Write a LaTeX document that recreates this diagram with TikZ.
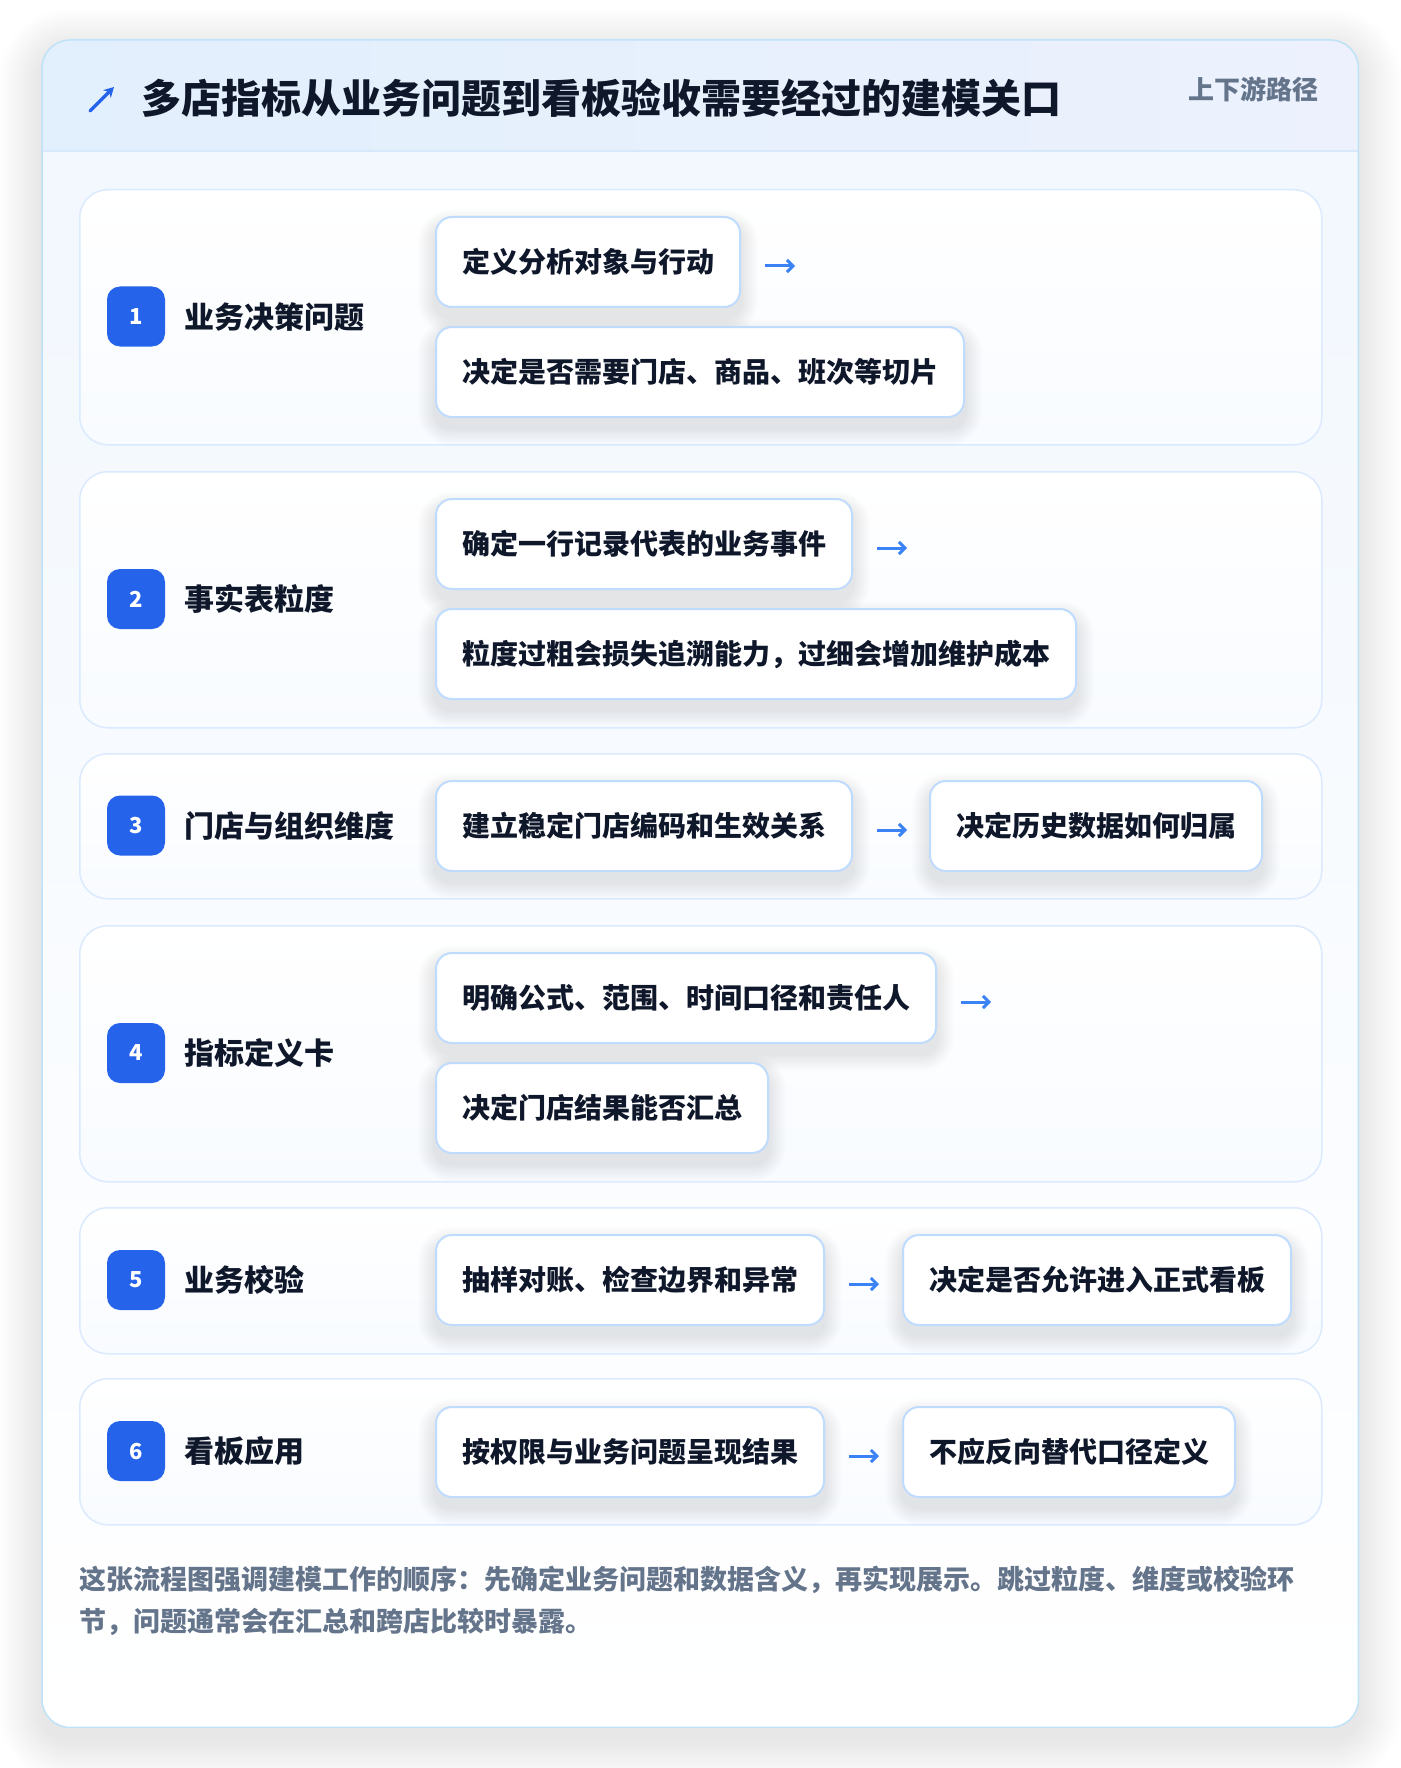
\documentclass[tikz,border=0pt]{standalone}
\usepackage{fontspec}
\setmainfont{Noto Sans CJK SC}
\usetikzlibrary{arrows.meta}
\definecolor{blueA}{HTML}{2563EB}
\definecolor{blueArrow}{HTML}{3B82F6}
\definecolor{ink}{HTML}{0F172A}
\definecolor{slate}{HTML}{64748B}
\definecolor{cardtop}{HTML}{F1F7FE}
\definecolor{cardline}{HTML}{BEE3F8}
\definecolor{hdrL}{HTML}{E2EFFD}
\definecolor{hdrR}{HTML}{ECF1FD}
\definecolor{hdrline}{HTML}{D8E8FB}
\definecolor{rowline}{HTML}{DBEAFE}
\definecolor{rowbot}{HTML}{F8FBFF}
\definecolor{stepline}{HTML}{BFDBFE}
\definecolor{shadowc}{HTML}{1E293B}
\pgfdeclarelayer{bg}
\pgfdeclarelayer{sh}
\pgfsetlayers{bg,sh,main}
% soft shadow: #1 node, #2 corner radius, #3 drop, #4 layers, #5 opacity, #6 spread per layer
\newcommand{\softdrop}[6]{%
  \begin{pgfonlayer}{sh}
  \foreach \k in {1,...,#4}{%
    \pgfmathsetmacro{\rr}{#2+\k*#6}%
    \pgfmathsetmacro{\dd}{\k*#6}%
    \fill[shadowc, opacity=#5, rounded corners=\rr pt]
      ([shift={(-\dd pt,\dd pt-#3)}]#1.north west) rectangle ([shift={(\dd pt,-\dd pt-#3)}]#1.south east);
  }%
  \end{pgfonlayer}}
\begin{document}
\begin{tikzpicture}[x=1pt,y=1pt,
  cardbox/.style={minimum width=1316pt, minimum height=1687pt, anchor=north west, inner sep=0pt},
  rowbox/.style={draw=rowline, line width=1.5pt, top color=white, bottom color=rowbot, rounded corners=28pt, minimum width=1242pt, anchor=north west, inner sep=0pt},
  badge/.style={fill=blueA, rounded corners=13pt, minimum width=58pt, minimum height=60pt, inner sep=0pt, text=white, font=\fontsize{22}{22}\selectfont\bfseries},
  stagelbl/.style={anchor=west, inner sep=0pt, text=ink, font=\fontsize{30}{30}\selectfont\bfseries},
  stepbox/.style={draw=stepline, line width=2pt, fill=white, rounded corners=16pt, minimum height=90pt, inner xsep=26pt, inner ysep=0pt, anchor=west, text=ink, font=\fontsize{28}{28}\selectfont\bfseries},
  flow/.style={blueArrow, line width=3pt, -{Straight Barb[length=6pt,width=12pt,line width=3pt]}}
]
\useasboundingbox (0,0) rectangle (1400,-1768);
\begin{pgfonlayer}{bg}
\fill[white] (0,0) rectangle (1400,-1768);
\node[cardbox] (card) at (42,-40) {};
\foreach \k in {1,...,24}{%
  \pgfmathsetmacro{\dd}{\k*1.8}%
  \pgfmathsetmacro{\rr}{28+\k*1.8}%
  \fill[shadowc, opacity=0.0045, rounded corners=\rr pt]
    ([shift={(-\dd pt,\dd pt-12pt)}]card.north west) rectangle ([shift={(\dd pt,-\dd pt-12pt)}]card.south east);
}
\fill[white, rounded corners=28pt] (card.north west) rectangle (card.south east);
\begin{scope}
  \clip[rounded corners=28pt] (card.north west) rectangle (card.south east);
  \shade[top color=cardtop, bottom color=white] (card.north west) rectangle (card.south east);
  \shade[left color=hdrL, right color=hdrR] (42,-40) rectangle (1358,-151);
  \draw[hdrline, line width=1.5pt] (42,-151) -- (1358,-151);
\end{scope}
\draw[cardline, line width=1.5pt, rounded corners=28pt] (card.north west) rectangle (card.south east);
\node[rowbox, minimum height=255pt] (r1) at (79,-189) {};
\node[rowbox, minimum height=256pt] (r2) at (79,-471) {};
\node[rowbox, minimum height=145pt] (r3) at (79,-753) {};
\node[rowbox, minimum height=256pt] (r4) at (79,-925) {};
\node[rowbox, minimum height=146pt] (r5) at (79,-1207) {};
\node[rowbox, minimum height=146pt] (r6) at (79,-1378) {};
\end{pgfonlayer}

% header
\coordinate (ic1) at (90,-111);
\coordinate (ic2) at (114,-87);
\draw[blueA, line width=3.5pt, line cap=round, -{Stealth[length=10pt,width=11pt]}] (ic1) -- (ic2);
\node[anchor=west, inner sep=0pt, text=ink, font=\fontsize{40}{40}\selectfont\bfseries] (title) at (141,-98.5) {多店指标从业务问题到看板验收需要经过的建模关口};
\node[anchor=west, inner sep=0pt, text=slate, font=\fontsize{26}{26}\selectfont\bfseries] (tag) at (1188,-89) {上下游路径};

% row 1
\node[badge] (b1) at (136,-316.5) {1};
\node[stagelbl] (l1) at (184,-316.5) {业务决策问题};
\node[stepbox] (s1a) at (435,-262) {定义分析对象与行动};
\node[stepbox] (s1b) at (435,-372) {决定是否需要门店、商品、班次等切片};
\draw[flow] ([xshift=24pt,yshift=-4pt]s1a.east) -- ([xshift=54pt,yshift=-4pt]s1a.east);

% row 2
\node[badge] (b2) at (136,-599) {2};
\node[stagelbl] (l2) at (184,-599) {事实表粒度};
\node[stepbox] (s2a) at (435,-544) {确定一行记录代表的业务事件};
\node[stepbox] (s2b) at (435,-654) {粒度过粗会损失追溯能力，过细会增加维护成本};
\draw[flow] ([xshift=24pt,yshift=-4pt]s2a.east) -- ([xshift=54pt,yshift=-4pt]s2a.east);

% row 3
\node[badge] (b3) at (136,-825.5) {3};
\node[stagelbl] (l3) at (184,-825.5) {门店与组织维度};
\node[stepbox] (s3a) at (435,-826) {建立稳定门店编码和生效关系};
\node[stepbox] (s3b) at ([xshift=76pt]s3a.east) {决定历史数据如何归属};
\draw[flow] ([xshift=24pt,yshift=-4pt]s3a.east) -- ([xshift=-22pt,yshift=-4pt]s3b.west);

% row 4
\node[badge] (b4) at (136,-1053) {4};
\node[stagelbl] (l4) at (184,-1053) {指标定义卡};
\node[stepbox] (s4a) at (435,-998) {明确公式、范围、时间口径和责任人};
\node[stepbox] (s4b) at (435,-1108) {决定门店结果能否汇总};
\draw[flow] ([xshift=24pt,yshift=-4pt]s4a.east) -- ([xshift=54pt,yshift=-4pt]s4a.east);

% row 5
\node[badge] (b5) at (136,-1280) {5};
\node[stagelbl] (l5) at (184,-1280) {业务校验};
\node[stepbox] (s5a) at (435,-1280) {抽样对账、检查边界和异常};
\node[stepbox] (s5b) at ([xshift=77pt]s5a.east) {决定是否允许进入正式看板};
\draw[flow] ([xshift=24pt,yshift=-4pt]s5a.east) -- ([xshift=-23pt,yshift=-4pt]s5b.west);

% row 6
\node[badge] (b6) at (136,-1451) {6};
\node[stagelbl] (l6) at (184,-1451) {看板应用};
\node[stepbox] (s6a) at (435,-1452) {按权限与业务问题呈现结果};
\node[stepbox] (s6b) at ([xshift=77pt]s6a.east) {不应反向替代口径定义};
\draw[flow] ([xshift=24pt,yshift=-4pt]s6a.east) -- ([xshift=-23pt,yshift=-4pt]s6b.west);

% step shadows
\foreach \n in {s1a,s1b,s2a,s2b,s3a,s3b,s4a,s4b,s5a,s5b,s6a,s6b}{\softdrop{\n}{16}{10pt}{12}{0.006}{1.4}}

% footer
\node[anchor=west, inner sep=0pt, align=left, text=slate, font=\fontsize{27}{42}\selectfont\bfseries] (note) at (79,-1601) {这张流程图强调建模工作的顺序：先确定业务问题和数据含义，再实现展示。跳过粒度、维度或校验环\\节，问题通常会在汇总和跨店比较时暴露。};
\end{tikzpicture}
\end{document}
